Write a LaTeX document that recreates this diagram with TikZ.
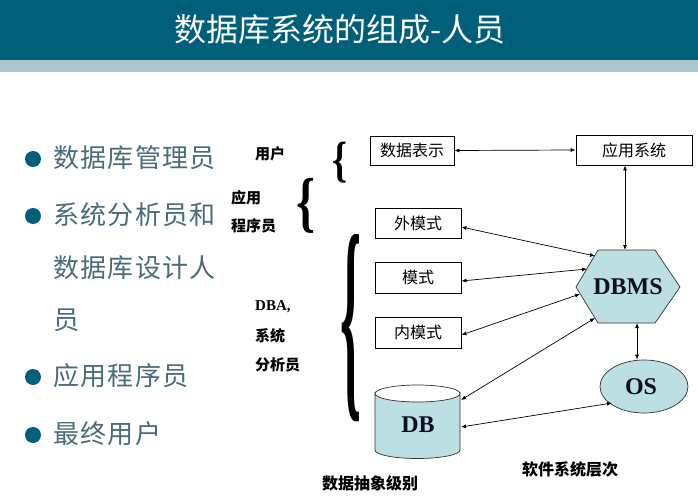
\documentclass[tikz,border=0pt]{standalone}
\usepackage{fontspec}
\usepackage{graphicx}
\setmainfont{Liberation Serif}
\newfontfamily\cjk{Noto Sans CJK SC}
\newfontfamily\cjkls[LetterSpace=5]{Noto Sans CJK SC}
\newfontfamily\tms{Liberation Serif}
\usetikzlibrary{arrows.meta,shapes.geometric}
\definecolor{teal1}{RGB}{0,95,122}
\definecolor{band}{RGB}{169,198,206}
\definecolor{bultext}{RGB}{72,108,122}
\definecolor{lcyan}{RGB}{187,223,227}
\definecolor{ink}{RGB}{15,15,35}
\tikzset{
  box/.style={draw=black, line width=0.8pt, inner sep=0pt, font=\cjk\fontsize{16}{16}\selectfont},
  lbl/.style={inner sep=0pt, font=\cjk\bfseries\fontsize{15}{15}\selectfont},
  lbll/.style={lbl, anchor=west},
  bul/.style={circle, fill=teal1, inner sep=0pt, minimum size=16pt},
  bultxt/.style={anchor=west, inner sep=0pt, text=bultext, font=\cjkls\fontsize{26}{26}\selectfont},
  con/.style={line width=0.7pt, {Latex[length=5pt,width=4pt]}-{Latex[length=5pt,width=4pt]}},
  big/.style={inner sep=0pt, text=ink, font=\tms\bfseries\fontsize{24}{24}\selectfont},
  brc/.style={inner sep=0pt}
}
\begin{document}
\begin{tikzpicture}[x=1pt,y=-1pt]
\useasboundingbox (0,0) rectangle (698,497);
\fill[white] (0,0) rectangle (698,497);
% title bar
\fill[teal1] (0,0) rectangle (698,60);
\fill[band] (0,60) rectangle (698,72);
\node[inner sep=0pt, text=white, font=\cjk\fontsize{32}{32}\selectfont] (title) at (340,29) {数据库系统的组成-人员};
% bullets
\node[bul] (b1) at (33,159) {};
\node[bultxt] (t1) at (53,158) {数据库管理员};
\node[bul] (b2) at (33,216) {};
\node[bultxt] (t2) at (53,215) {系统分析员和};
\node[bultxt] (t2b) at (53,268) {数据库设计人};
\node[bultxt] (t2c) at (53,320) {员};
\node[bul] (b3) at (33,377) {};
\node[bultxt] (t3) at (53,376) {应用程序员};
\node[bul] (b4) at (33,435) {};
\node[bultxt] (t4) at (53,434) {最终用户};
% side labels
\node[lbl] (u) at (270,154) {用户};
\node[lbll] (ap1) at (231,198) {应用};
\node[lbll] (ap2) at (231,226) {程序员};
\node[lbll, font=\tms\bfseries\fontsize{15}{15}\selectfont] (dba) at (255,307) {DBA,};
\node[lbll] (sa1) at (255,336) {系统};
\node[lbll] (sa2) at (255,365) {分析员};
% braces
\node[brc] (br1) at (339.5,162.5) {\resizebox*{15pt}{41pt}{\tms\bfseries\{}};
\node[brc] (br2) at (306,205.5) {\resizebox*{19pt}{55pt}{\tms\bfseries\{}};
\node[brc] (br3) at (350.5,328.5) {\resizebox*{21pt}{187pt}{\tms\bfseries\{}};
% boxes
\node[box, minimum width=84pt, minimum height=29pt] (sj) at (412,150.5) {数据表示};
\node[box, minimum width=116pt, minimum height=30pt] (yy) at (634,150) {应用系统};
\node[box, minimum width=86pt, minimum height=30pt] (wms) at (418,223) {外模式};
\node[box, minimum width=86pt, minimum height=31pt] (ms) at (418,277.5) {模式};
\node[box, minimum width=86pt, minimum height=31pt] (nms) at (418,332.5) {内模式};
% DBMS hexagon
\filldraw[fill=lcyan, draw=black!80, line width=0.7pt] (576,287) -- (598,250) -- (655,250) -- (680,287) -- (655,323) -- (598,323) -- cycle;
\node[big] (dbms) at (628,287) {DBMS};
% OS ellipse
\node[ellipse, draw=black!80, fill=lcyan, line width=0.7pt, minimum width=88pt, minimum height=53pt, inner sep=0pt] (os) at (644,386.5) {};
\node[big] (ostxt) at (641,387) {OS};
% DB cylinder
\filldraw[fill=lcyan, draw=black!80, line width=0.7pt] (375,393.5) -- (375,450) arc[start angle=180, end angle=0, x radius=42.5, y radius=8.5] -- (460,393.5) arc[start angle=0, end angle=180, x radius=42.5, y radius=8.5] -- cycle;
\draw[black!80, line width=0.7pt] (375,393.5) arc[start angle=180, end angle=360, x radius=42.5, y radius=8.5];
\node[big] (db) at (418,425) {DB};
% connector endpoints
\coordinate (h1) at (595,256);
\coordinate (h2) at (587,269);
\coordinate (h3) at (580,294);
\coordinate (h4) at (595,318);
\coordinate (htop) at (625,250);
\coordinate (hbot) at (637,323);
\coordinate (dbr1) at (461,400);
\coordinate (dbr2) at (461,427);
\coordinate (osl) at (612,403);
% connectors
\draw[con] (sj.east) -- (yy.west);
\draw[con] (yy.south -| htop) -- (htop);
\draw[con] (wms.east |- 0,227) -- (h1);
\draw[con] (ms.east |- 0,281) -- (h2);
\draw[con] (nms.east |- 0,335) -- (h3);
\draw[con] (dbr1) -- (h4);
\draw[con] (hbot) -- (os.north -| hbot);
\draw[con] (dbr2) -- (osl);
% bottom labels
\node[lbl, font=\cjk\bfseries\fontsize{16}{16}\selectfont] (l1) at (370,483) {数据抽象级别};
\node[lbl, font=\cjk\bfseries\fontsize{16}{16}\selectfont] (l2) at (570,469) {软件系统层次};
\end{tikzpicture}
\end{document}
